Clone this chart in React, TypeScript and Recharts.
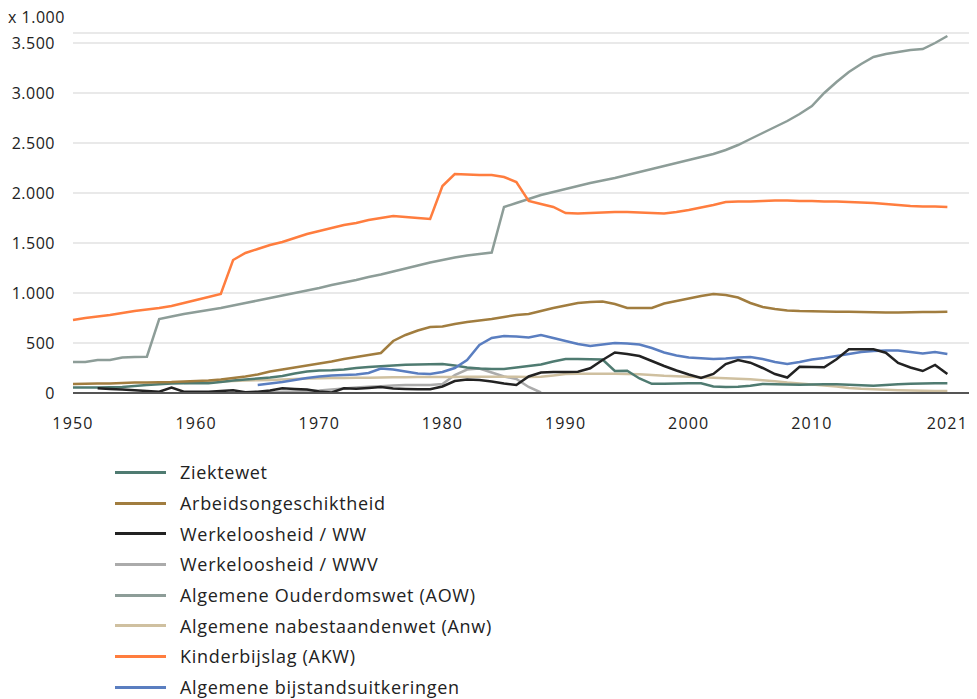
import React from 'react'
import { LineChart, Line, XAxis, YAxis, CartesianGrid } from 'recharts'

const years = [
  1950, 1951, 1952, 1953, 1954, 1955, 1956, 1957, 1958, 1959,
  1960, 1961, 1962, 1963, 1964, 1965, 1966, 1967, 1968, 1969,
  1970, 1971, 1972, 1973, 1974, 1975, 1976, 1977, 1978, 1979,
  1980, 1981, 1982, 1983, 1984, 1985, 1986, 1987, 1988, 1989,
  1990, 1991, 1992, 1993, 1994, 1995, 1996, 1997, 1998, 1999,
  2000, 2001, 2002, 2003, 2004, 2005, 2006, 2007, 2008, 2009,
  2010, 2011, 2012, 2013, 2014, 2015, 2016, 2017, 2018, 2019,
  2020, 2021,
]

const ziektewet = [
  55, 55, 55, 57, 60, 70, 80, 88, 95, 97,
  97, 97, 110, 125, 135, 145, 155, 170, 195, 215,
  225, 228, 235, 250, 260, 268, 275, 282, 285, 288,
  290, 275, 255, 245, 240, 240, 255, 270, 285, 315,
  340, 340, 338, 335, 220, 222, 145, 92, 92, 95,
  97, 97, 65, 60, 63, 72, 90, 88, 85, 82,
  85, 88, 88, 82, 77, 72, 80, 88, 92, 95,
  97, 97,
]

const arbeidsongeschiktheid = [
  90, 92, 95, 95, 100, 105, 105, 108, 110, 115,
  120, 125, 135, 150, 165, 185, 215, 235, 255, 275,
  295, 315, 340, 360, 380, 400, 520, 580, 625, 660,
  665, 690, 710, 725, 740, 760, 780, 790, 820, 850,
  875, 900, 910, 915, 890, 850, 850, 850, 895, 920,
  945, 970, 990, 980, 955, 900, 860, 840, 825, 820,
  818, 815, 813, 812, 810, 808, 805, 805, 808, 810,
  810, 812,
]

const werkloosheidWW = [
  null, null, 47, 40, 35, 28, 20, 13, 55, 13,
  12, 12, 20, 28, 8, 13, 25, 47, 40, 35,
  15, 5, 47, 42, 50, 60, 45, 40, 37, 37,
  65, 120, 135, 130, 115, 95, 80, 165, 205, 210,
  210, 213, 247, 330, 405, 390, 370, 320, 270, 225,
  185, 150, 190, 290, 330, 303, 250, 190, 155, 263,
  260, 257, 337, 437, 437, 437, 403, 300, 255, 220,
  280, 190,
]

const werkloosheidWWV = [
  null, null, null, null, null, null, null, null, null, null,
  null, null, null, null, null, 5, 8, 12, 15, 20,
  25, 35, 45, 55, 62, 68, 75, 80, 80, 80,
  90, 180, 235, 245, 205, 165, 140, 60, 5, null,
  null, null, null, null, null, null, null, null, null, null,
  null, null, null, null, null, null, null, null, null, null,
  null, null, null, null, null, null, null, null, null, null,
  null, null,
]

const aow = [
  310, 310, 330, 330, 355, 360, 363, 740, 765, 790,
  810, 830, 850, 875, 900, 925, 950, 975, 1000, 1025,
  1050, 1080, 1105, 1130, 1160, 1185, 1215, 1245, 1275, 1305,
  1330, 1355, 1375, 1390, 1405, 1860, 1900, 1940, 1980, 2010,
  2040, 2070, 2100, 2125, 2150, 2180, 2210, 2240, 2270, 2300,
  2330, 2360, 2390, 2430, 2480, 2540, 2600, 2660, 2720, 2790,
  2870, 3000, 3110, 3210, 3290, 3360, 3390, 3410, 3430, 3440,
  3500, 3570,
]

const anw = [
  null, null, null, null, null, null, null, null, null, 100,
  105, 110, 115, 120, 125, 128, 130, 135, 140, 145,
  148, 150, 150, 152, 153, 155, 157, 158, 160, 160,
  160, 160, 162, 163, 163, 163, 162, 160, 162, 175,
  190, 192, 192, 192, 192, 190, 188, 180, 172, 168,
  162, 157, 152, 148, 142, 137, 128, 118, 105, 95,
  85, 75, 65, 50, 42, 38, 33, 28, 24, 22,
  20, 20,
]

const kinderbijslag = [
  730, 750, 765, 780, 800, 820, 835, 850, 870, 900,
  930, 960, 990, 1330, 1400, 1440, 1480, 1510, 1550, 1590,
  1620, 1650, 1680, 1700, 1730, 1750, 1770, 1760, 1750, 1740,
  2070, 2190, 2185, 2180, 2180, 2160, 2110, 1920, 1890, 1860,
  1800, 1795, 1800, 1805, 1810, 1810, 1805, 1800, 1795, 1810,
  1830, 1855, 1880, 1910, 1915, 1915, 1920, 1925, 1925, 1920,
  1920, 1915, 1915, 1910, 1905, 1900, 1890, 1880, 1870, 1865,
  1865, 1860,
]

const bijstand = [
  null, null, null, null, null, null, null, null, null, null,
  null, null, null, null, null, 80, 95, 110, 130, 150,
  165, 175, 180, 185, 200, 245, 235, 215, 195, 190,
  210, 250, 330, 480, 550, 570, 565, 555, 580, 550,
  520, 490, 470, 485, 500, 495, 485, 450, 405, 375,
  355, 348, 340, 345, 355, 360, 340, 310, 290, 310,
  335, 350, 370, 390, 410, 420, 425, 425, 410, 395,
  410, 390,
]

const xTicks = [1950, 1960, 1970, 1980, 1990, 2000, 2010, 2021]
const yTicks = [0, 500, 1000, 1500, 2000, 2500, 3000, 3500]

const series = [
  { key: 'zw', name: 'Ziektewet', color: '#4f7b71', values: ziektewet },
  { key: 'ao', name: 'Arbeidsongeschiktheid', color: '#a17d3f', values: arbeidsongeschiktheid },
  { key: 'ww', name: 'Werkeloosheid / WW', color: '#222222', values: werkloosheidWW },
  { key: 'wwv', name: 'Werkeloosheid / WWV', color: '#ababab', values: werkloosheidWWV },
  { key: 'aow', name: 'Algemene Ouderdomswet (AOW)', color: '#8d9d98', values: aow },
  { key: 'anw', name: 'Algemene nabestaandenwet (Anw)', color: '#cfc0a0', values: anw },
  { key: 'akw', name: 'Kinderbijslag (AKW)', color: '#ff7d3e', values: kinderbijslag },
  { key: 'abw', name: 'Algemene bijstandsuitkeringen', color: '#5a7ec0', values: bijstand },
]

// draw order: light lines under, main lines on top
const drawOrder = ['wwv', 'anw', 'zw', 'ao', 'abw', 'ww', 'aow', 'akw']

const data = years.map((year, i) => {
  const row: Record<string, number | null> = { year }
  series.forEach(s => {
    row[s.key] = s.values[i]
  })
  return row
})

function formatThousands(v: number) {
  return String(v).replace(/\B(?=(\d{3})+(?!\d))/g, '.')
}

const FONT = '"Open Sans", sans-serif'
const TEXT = '#222'

export default function App() {
  return (
    <div style={{ position: 'relative', width: 969, height: 691, fontFamily: FONT, color: TEXT }}>
      <div style={{ position: 'absolute', left: 0, top: 0, fontSize: 16, lineHeight: '18px', letterSpacing: 0.5 }}>
        x 1.000
      </div>
      <LineChart
        width={969}
        height={430}
        data={data}
        margin={{ top: 25, right: 5, bottom: 15, left: 0 }}
      >
        <CartesianGrid horizontal vertical={false} stroke="#e2e2e2" strokeWidth={1.5} />
        <XAxis
          dataKey="year"
          type="number"
          domain={[1950, 2023]}
          ticks={xTicks}
          tick={{ fontSize: 16, fill: TEXT, fontFamily: FONT, letterSpacing: 1.2 }}
          tickLine={false}
          axisLine={{ stroke: '#555', strokeWidth: 2 }}
          tickMargin={19}
          height={30}
          allowDecimals={false}
        />
        <YAxis
          domain={[0, 3600]}
          ticks={yTicks}
          tickFormatter={formatThousands}
          tick={{ fontSize: 16, fill: TEXT, fontFamily: FONT, letterSpacing: 0.5 }}
          tickLine={false}
          axisLine={false}
          tickMargin={12}
          width={65}
        />
        {drawOrder.map(k => {
          const s = series.find(x => x.key === k)!
          return (
            <Line
              key={s.key}
              type="linear"
              dataKey={s.key}
              name={s.name}
              stroke={s.color}
              strokeWidth={2.5}
              dot={false}
              activeDot={false}
              isAnimationActive={false}
            />
          )
        })}
      </LineChart>
      <div style={{ position: 'absolute', left: 107, top: 449 }}>
        {series.map(s => (
          <div key={s.key} style={{ display: 'flex', alignItems: 'center', height: 30.7 }}>
            <span style={{ display: 'inline-block', width: 51, height: 3, background: s.color, marginRight: 14 }} />
            <span style={{ fontSize: 18, letterSpacing: 0.7 }}>{s.name}</span>
          </div>
        ))}
      </div>
    </div>
  )
}
